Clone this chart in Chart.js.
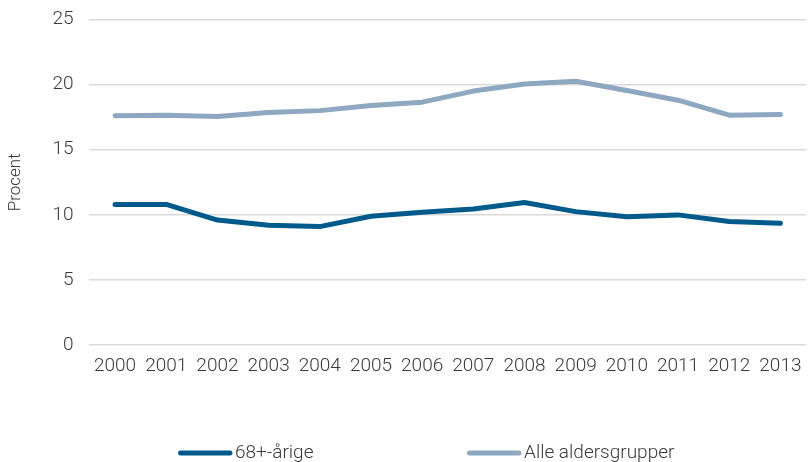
<!DOCTYPE html>
<html><head><meta charset="utf-8">
<script src="https://cdn.jsdelivr.net/npm/chart.js@4/dist/chart.umd.min.js"></script>
<style>html,body{margin:0;padding:0;background:#fff}#wrap{width:812px;height:462px}</style>
</head><body><div id="wrap"><canvas id="c" width="812" height="462"></canvas></div>
<script>
const years = ['2000','2001','2002','2003','2004','2005','2006','2007','2008','2009','2010','2011','2012','2013'];
const aged68 = [10.8,10.8,9.6,9.2,9.1,9.9,10.2,10.45,10.95,10.25,9.85,10.0,9.5,9.35];
const allAges = [17.6,17.65,17.55,17.85,18.0,18.4,18.65,19.5,20.05,20.25,19.55,18.8,17.65,17.7];
const seriesNames = ['68+-årige','Alle aldersgrupper'];
const yTicks = [0,5,10,15,20,25];

const FONT = 'Roboto, "DejaVu Sans", sans-serif';
const TEXT = '#3a3a3a';

// legend drawn in the reserved bottom band, from the datasets' own labels and colours
const bottomLegend = {
  id: 'bottomLegend',
  afterDraw(chart) {
    const ctx = chart.ctx;
    const starts = [178, 467];
    const y = 453;
    ctx.save();
    ctx.font = '300 19px ' + FONT;
    ctx.textBaseline = 'middle';
    ctx.textAlign = 'left';
    chart.data.datasets.forEach((ds, i) => {
      const x = starts[i];
      ctx.strokeStyle = ds.borderColor;
      ctx.lineWidth = 5;
      ctx.lineCap = 'round';
      ctx.beginPath();
      ctx.moveTo(x + 2.5, y);
      ctx.lineTo(x + 52, y);
      ctx.stroke();
      ctx.fillStyle = TEXT;
      ctx.fillText(ds.label, x + 57, y);
    });
    ctx.restore();
  }
};

new Chart(document.getElementById('c'), {
  type: 'line',
  data: {
    labels: years,
    datasets: [
      {label: seriesNames[0], data: aged68, borderColor: '#005b8c', backgroundColor: '#005b8c', borderWidth: 5, pointRadius: 0, tension: 0, borderCapStyle: 'round', borderJoinStyle: 'round'},
      {label: seriesNames[1], data: allAges, borderColor: '#8ea8c1', backgroundColor: '#8ea8c1', borderWidth: 5, pointRadius: 0, tension: 0, borderCapStyle: 'round', borderJoinStyle: 'round'}
    ]
  },
  plugins: [bottomLegend],
  options: {
    responsive: false,
    animation: false,
    layout: {padding: {top: 0, right: 6, left: 4, bottom: 82}},
    plugins: {
      tooltip: {enabled: false},
      legend: {display: false}
    },
    scales: {
      x: {
        offset: true,
        grid: {display: false},
        border: {display: false},
        ticks: {font: {family: FONT, size: 19, weight: 300}, color: TEXT, padding: 2, maxRotation: 0, autoSkip: false}
      },
      y: {
        min: 0, max: 25,
        afterBuildTicks: (axis) => { axis.ticks = yTicks.map(v => ({value: v})); },
        grid: {color: '#d9d9d9', lineWidth: 1.5, drawTicks: true, tickLength: 8, tickColor: 'rgba(0,0,0,0)'},
        border: {display: false},
        ticks: {font: {family: FONT, size: 19, weight: 300}, color: TEXT, padding: 8},
        title: {display: true, text: 'Procent', font: {family: FONT, size: 17, weight: 300}, color: TEXT, padding: {top: 2, bottom: 18}}
      }
    }
  }
});
</script></body></html>
